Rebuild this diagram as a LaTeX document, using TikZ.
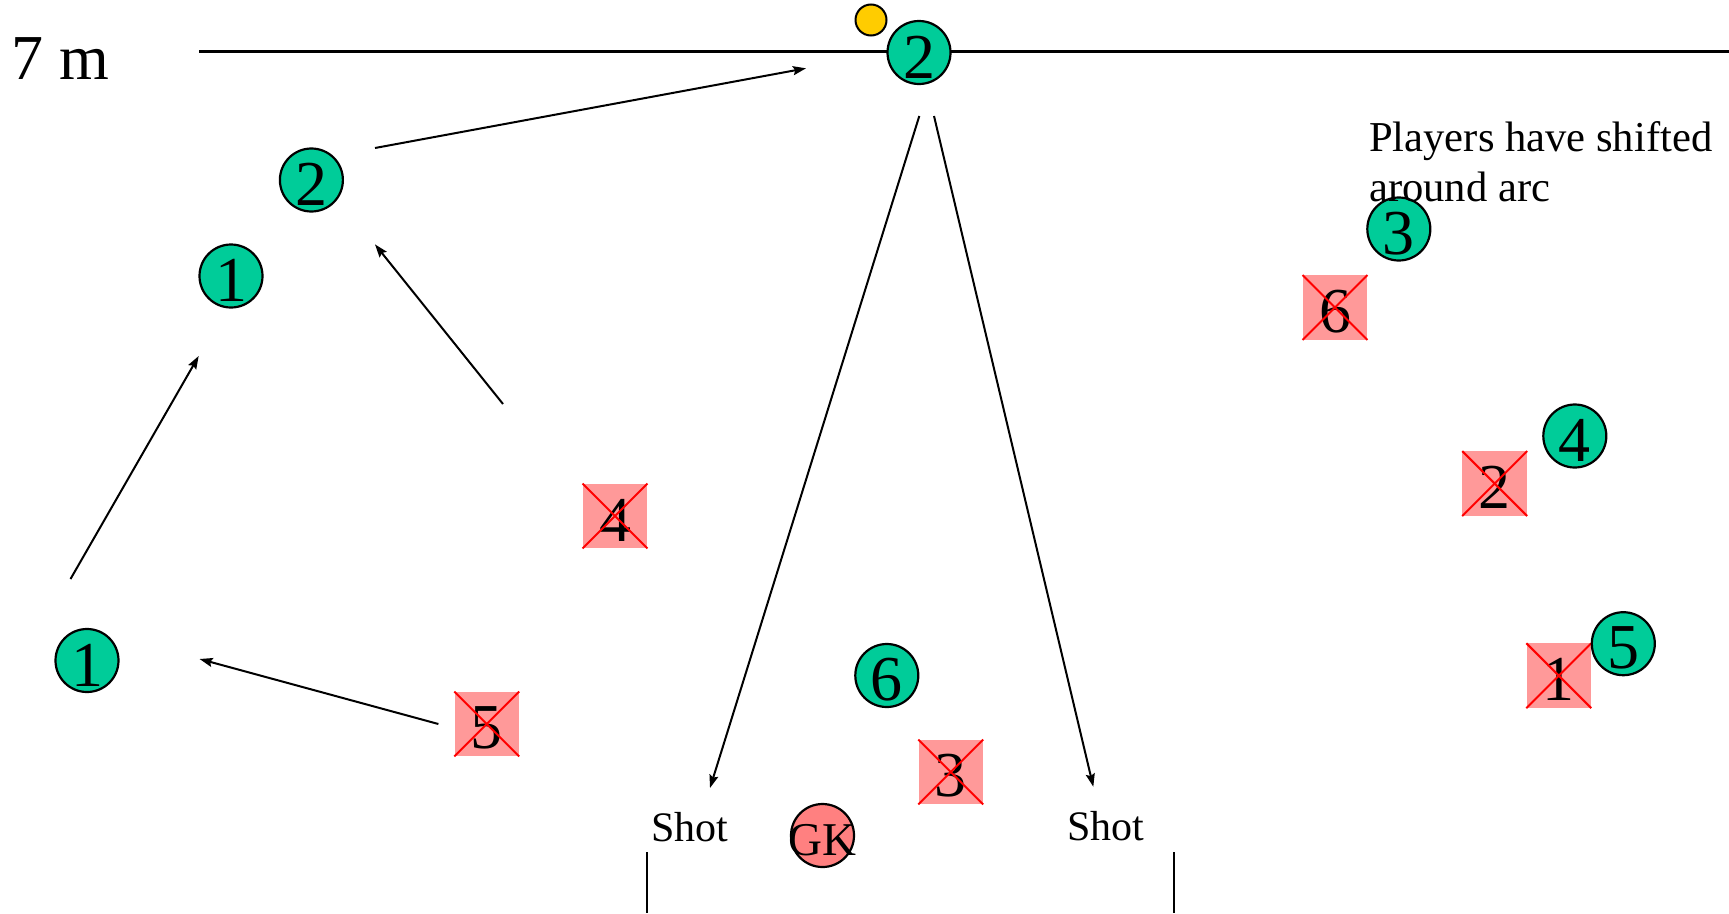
\documentclass[tikz,border=0pt]{standalone}
\usepackage{fontspec}
\setmainfont{Liberation Serif}
\usetikzlibrary{arrows.meta}

\definecolor{attackgreen}{HTML}{00CC99}
\definecolor{defendpink}{HTML}{FF9999}
\definecolor{keeperred}{HTML}{FF8080}
\definecolor{ballyellow}{HTML}{FFCC00}

\tikzset{
  attacker/.style={circle, draw=black, line width=2.2pt, fill=attackgreen,
                   minimum size=63pt, inner sep=0pt},
  keeper/.style={circle, draw=black, line width=2.2pt, fill=keeperred,
                 minimum size=63pt, inner sep=0pt},
  defender/.style={rectangle, fill=defendpink, minimum size=64.5pt, inner sep=0pt},
  crossout/.style={red, line width=2pt},
  numeral/.style={font=\fontsize{64}{64}\selectfont, inner sep=0pt},
  keeperlabel/.style={font=\fontsize{47}{47}\selectfont, inner sep=0pt},
  caption/.style={font=\fontsize{42.6}{50}\selectfont, inner sep=0pt, anchor=base west},
  shotlabel/.style={font=\fontsize{42}{50}\selectfont, inner sep=0pt, anchor=base},
  move/.style={line width=2pt, -{Stealth[length=13pt,width=9pt,inset=2pt]}},
  ball/.style={circle, draw=black, line width=2pt, fill=ballyellow,
               minimum size=31pt, inner sep=0pt},
}

% attacking player: green disc with its number
\newcommand\attackplayer[3]{%
  \node[attacker] (#1) at (#2) {};
  \node[numeral] (#1n) at ([yshift=-4.5pt]#1.center) {#3};}
% defending player: crossed pink square with its number
\newcommand\defendplayer[3]{%
  \node[defender] (#1) at (#2) {};
  \node[numeral] (#1n) at ([yshift=-4pt]#1.center) {#3};
  \draw[crossout] (#1.north west) -- (#1.south east)
                  (#1.north east) -- (#1.south west);}

\begin{document}
\begin{tikzpicture}[x=1pt, y=-1pt]
\useasboundingbox (0,0) rectangle (1729,913);

% 7 m line
\coordinate (lineL) at (199,51.7);
\coordinate (lineR) at (1729,51.7);
\draw[line width=2.6pt] (lineL) -- (lineR);
\node[anchor=base west, inner sep=0pt, font=\fontsize{64}{64}\selectfont] (sevenm) at (11,79) {7 m};

% goal posts
\coordinate (postLt) at (647.3,852);
\coordinate (postLb) at (647.3,913);
\coordinate (postRt) at (1174.3,852);
\coordinate (postRb) at (1174.3,913);
\draw[line width=2pt] (postLt) -- (postLb);
\draw[line width=2pt] (postRt) -- (postRb);

% defenders
\defendplayer{dfour}{615,516}{4}
\defendplayer{dfive}{486.8,724}{5}
\defendplayer{dthree}{950.8,772}{3}
\defendplayer{dsix}{1335,307.5}{6}
\defendplayer{dtwo}{1494.7,483.6}{2}
\defendplayer{done}{1558.8,675.7}{1}

% attackers
\attackplayer{atwotop}{919,52.5}{2}
\attackplayer{atwo}{311.4,180}{2}
\attackplayer{aoneup}{231,276}{1}
\attackplayer{aonelow}{87,660.5}{1}
\attackplayer{asix}{886.8,675.5}{6}
\attackplayer{athree}{1398.8,229}{3}
\attackplayer{afour}{1574.8,436}{4}
\attackplayer{afive}{1623.3,643.7}{5}

% goalkeeper
\node[keeper] (gk) at (822.5,835.5) {};
\node[keeperlabel] (gkn) at ([yshift=-4.5pt]gk.center) {GK};

% ball
\node[ball] (theball) at (871,20) {};

% movement and passes
\coordinate (m1s) at (375,148);     \coordinate (m1e) at (806,68.3);
\coordinate (m2s) at (503,404);     \coordinate (m2e) at (375,244.4);
\coordinate (m3s) at (70.5,579);    \coordinate (m3e) at (198.7,356);
\coordinate (m4s) at (438.4,724);   \coordinate (m4e) at (199.6,659);
\coordinate (s1s) at (919.3,116);   \coordinate (s1e) at (710,788);
\coordinate (s2s) at (934,116);     \coordinate (s2e) at (1093.3,786.7);
\draw[move] (m1s) -- (m1e);
\draw[move] (m2s) -- (m2e);
\draw[move] (m3s) -- (m3e);
\draw[move] (m4s) -- (m4e);
\draw[move] (s1s) -- (s1e);
\draw[move] (s2s) -- (s2e);

% labels
\node[shotlabel] (shotL) at (690,841) {Shot};
\node[shotlabel] (shotR) at (1105.5,840) {Shot};
\node[caption] (note1) at (1369,151.7) {Players have shifted};
\node[caption] (note2) at (1369,201.7) {around arc};
\end{tikzpicture}
\end{document}
